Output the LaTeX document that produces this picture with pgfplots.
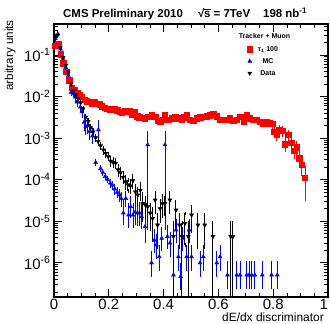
\documentclass[border=0pt]{standalone}
\usepackage{fontspec}
\setmainfont{Liberation Sans}
\usepackage{pgfplots}
\usepackage{pgfplotstable}
\pgfplotsset{compat=1.18}

\pgfplotstableread{
x y r
0.005 0.166 0.03
0.015 0.186 0.03
0.025 0.105 0.03
0.033 0.063 0.03
0.044 0.040 0.03
0.055 0.025 0.03
0.065 0.0166 0.03
0.075 0.0145 0.03
0.085 0.0120 0.03
0.093 0.0107 0.03
0.102 0.0098 0.03
0.111 0.0085 0.04
0.120 0.0078 0.04
0.130 0.0074 0.04
0.139 0.0068 0.04
0.148 0.0074 0.04
0.157 0.0068 0.04
0.167 0.0065 0.04
0.175 0.0059 0.04
0.185 0.0054 0.04
0.193 0.0051 0.04
0.203 0.0050 0.05
0.212 0.0050 0.05
0.221 0.0050 0.05
0.230 0.0047 0.05
0.240 0.0043 0.05
0.248 0.0041 0.05
0.258 0.0045 0.05
0.267 0.0043 0.05
0.276 0.0044 0.05
0.285 0.0037 0.05
0.294 0.0042 0.05
0.303 0.0034 0.05
0.311 0.0032 0.05
0.321 0.0031 0.05
0.331 0.0030 0.05
0.344 0.0033 0.05
0.357 0.0036 0.05
0.369 0.0033 0.05
0.378 0.0026 0.05
0.387 0.0025 0.05
0.396 0.0028 0.05
0.405 0.0036 0.05
0.417 0.0028 0.05
0.430 0.0030 0.05
0.442 0.0032 0.05
0.454 0.0030 0.05
0.466 0.0028 0.05
0.475 0.0032 0.05
0.484 0.0036 0.05
0.496 0.0028 0.05
0.508 0.0026 0.05
0.520 0.0030 0.05
0.533 0.0032 0.05
0.545 0.0033 0.05
0.557 0.0034 0.05
0.569 0.0036 0.05
0.581 0.0038 0.05
0.594 0.0034 0.05
0.606 0.0028 0.05
0.618 0.0028 0.05
0.630 0.0028 0.05
0.642 0.0030 0.05
0.654 0.0026 0.05
0.667 0.0028 0.05
0.679 0.0033 0.05
0.693 0.0025 0.06
0.703 0.0036 0.06
0.715 0.0030 0.06
0.727 0.0028 0.06
0.740 0.0028 0.06
0.752 0.0025 0.07
0.764 0.0023 0.07
0.776 0.0025 0.07
0.788 0.0023 0.08
0.796 0.0022 0.15
0.803 0.00145 0.2
0.813 0.0012 0.2
0.822 0.0016 0.2
0.834 0.0015 0.2
0.843 0.00072 0.3
0.855 0.0012 0.2
0.865 0.00078 0.3
0.876 0.0005 0.3
0.886 0.0006 0.3
0.895 0.00033 0.35
0.904 0.00023 0.4
0.916 0.000112 0.7
}\redtab

\pgfplotstableread{
x y ep em
0.005 0.25 0.05 0.05
0.014 0.32 0.05 0.05
0.024 0.14 0.05 0.05
0.033 0.083 0.05 0.05
0.043 0.050 0.05 0.05
0.052 0.032 0.05 0.05
0.062 0.0126 0.1 0.1
0.072 0.0117 0.1 0.1
0.078 0.0098 0.15 0.15
0.084 0.0074 0.15 0.15
0.096 0.0056 0.2 0.2
0.102 0.0043 0.2 0.2
0.110 0.0024 0.4 0.3
0.116 0.0019 0.4 0.3
0.123 0.0020 0.4 0.3
0.130 0.00145 0.4 0.3
0.140 0.00112 0.4 0.3
0.162 0.00158 0.6 0.5
0.152 0.00026 0.1 0.1
0.170 0.000186 0.1 0.1
0.178 0.000151 0.1 0.1
0.187 0.00012 0.1 0.1
0.196 0.000102 0.12 0.12
0.205 0.000083 0.15 0.15
0.213 0.000074 0.15 0.15
0.222 0.00006 0.2 0.2
0.231 0.00005 0.2 0.2
0.240 0.0000427 0.25 0.25
0.245 0.0000355 0.3 0.3
0.253 0.0000158 1.0 0.43
0.262 0.0000355 0.4 0.3
0.272 0.0000141 0.8 0.45
0.280 0.0000224 0.6 0.4
0.288 0.0000141 0.8 0.45
0.296 0.0000162 0.7 0.45
0.304 0.0000158 0.7 0.45
0.312 0.0000158 0.7 0.45
0.320 0.0000129 0.8 0.45
0.332 0.0000074 0.9 0.55
0.342 0.00069 0.95 0.99
0.356 0.0000010 0.75 0.5
0.366 0.0000035 0.7 0.45
0.374 0.0000027 0.7 0.5
0.384 0.0000014 0.75 0.5
0.393 0.0000039 0.7 0.45
0.405 0.00069 0.95 0.99
0.414 0.0000043 0.7 0.45
0.423 0.0000030 0.7 0.5
0.436 0.00000051 0.95 0.48
0.445 0.0000062 0.7 0.45
0.454 0.0000014 0.75 0.5
0.462 0.00000047 0.95 0.48
0.470 0.0000039 0.7 0.45
0.484 0.0000014 0.75 0.5
0.493 0.0000062 0.7 0.45
0.502 0.0000014 0.75 0.5
0.533 0.0000010 0.75 0.5
0.545 0.0000014 0.75 0.5
0.594 0.0000010 0.75 0.5
0.606 0.0000014 0.75 0.5
0.633 0.00000051 0.95 0.48
0.667 0.00000051 0.95 0.48
0.679 0.00000051 0.95 0.48
0.703 0.00000051 0.95 0.48
0.712 0.00000051 0.95 0.48
0.721 0.00000051 0.95 0.48
0.733 0.00000051 0.95 0.48
0.760 0.00000051 0.95 0.48
0.794 0.00000051 0.95 0.48
0.815 0.00000051 0.95 0.48
}\bluetab

\pgfplotstableread{
x y ep em
0.005 0.27 0.05 0.05
0.013 0.30 0.05 0.05
0.023 0.15 0.05 0.05
0.033 0.087 0.05 0.05
0.043 0.056 0.05 0.05
0.052 0.039 0.05 0.05
0.062 0.020 0.05 0.05
0.072 0.0141 0.05 0.05
0.080 0.0112 0.05 0.05
0.088 0.0089 0.05 0.05
0.097 0.0071 0.05 0.05
0.106 0.0050 0.08 0.08
0.116 0.0032 0.1 0.1
0.125 0.0025 0.1 0.1
0.134 0.00178 0.1 0.1
0.143 0.00141 0.1 0.1
0.152 0.00102 0.12 0.12
0.161 0.00083 0.12 0.12
0.170 0.00066 0.12 0.12
0.180 0.00052 0.15 0.15
0.189 0.00043 0.15 0.15
0.198 0.00036 0.15 0.15
0.207 0.00028 0.2 0.2
0.216 0.00026 0.2 0.2
0.225 0.00025 0.2 0.2
0.234 0.000174 0.25 0.25
0.243 0.000148 0.25 0.25
0.252 0.000115 0.25 0.25
0.261 0.000089 0.3 0.3
0.270 0.000076 0.3 0.3
0.279 0.000071 0.3 0.3
0.288 0.000095 0.3 0.3
0.297 0.000051 0.4 0.4
0.306 0.000043 0.4 0.4
0.315 0.000056 0.4 0.4
0.324 0.000027 0.7 0.6
0.333 0.000025 0.5 0.5
0.342 0.0000224 0.5 0.5
0.351 0.0000158 0.6 0.6
0.360 0.0000117 0.7 0.7
0.369 0.0000324 0.5 0.5
0.378 0.0000081 0.74 0.7
0.387 0.0000204 0.5 0.5
0.396 0.0000269 0.5 0.5
0.405 0.0000269 0.5 0.5
0.423 0.0000324 0.5 0.5
0.436 0.0000043 1.1 0.98
0.445 0.0000186 0.6 0.6
0.458 0.0000081 0.74 0.7
0.467 0.0000043 1.1 0.98
0.478 0.0000089 0.74 0.7
0.490 0.0000043 1.1 0.98
0.502 0.0000141 0.6 0.6
0.525 0.0000081 0.74 0.7
0.550 0.0000081 0.74 0.7
0.580 0.0000043 1.1 0.98
0.645 0.0000043 1.1 0.98
0.653 0.0000043 1.1 0.98
}\blacktab

\begin{document}
\begin{tikzpicture}
\begin{axis}[
  at={(54bp,27bp)}, anchor=south west,
  scale only axis, width=274bp, height=273bp,
  xmin=0, xmax=1, ymode=log, ymin=1.51e-7, ymax=0.556,
  xtick={0,0.2,0.4,0.6,0.8,1}, xticklabels={0,0.2,0.4,0.6,0.8,\makebox[0pt][r]{1}},
  minor x tick num=3,
  ytick={1e-6,1e-5,1e-4,1e-3,1e-2,1e-1},
  yticklabels={10\textsuperscript{-6},10\textsuperscript{-5},10\textsuperscript{-4},10\textsuperscript{-3},10\textsuperscript{-2},10\textsuperscript{-1}},
  minor ytick={2e-7,3e-7,4e-7,5e-7,6e-7,7e-7,8e-7,9e-7,
    2e-6,3e-6,4e-6,5e-6,6e-6,7e-6,8e-6,9e-6,
    2e-5,3e-5,4e-5,5e-5,6e-5,7e-5,8e-5,9e-5,
    2e-4,3e-4,4e-4,5e-4,6e-4,7e-4,8e-4,9e-4,
    2e-3,3e-3,4e-3,5e-3,6e-3,7e-3,8e-3,9e-3,
    2e-2,3e-2,4e-2,5e-2,6e-2,7e-2,8e-2,9e-2,
    2e-1,3e-1,4e-1,5e-1},
  major tick length=8bp, minor tick length=4bp,
  every tick/.style={line width=0.8bp, black},
  axis line style={line width=1.2bp},
  ticklabel style={font=\fontsize{15}{15}\selectfont},
  xticklabel style={yshift=1bp},
  legend style={draw=none, fill=none, at={(0.704,0.921)}, anchor=north west,
    font=\bfseries\fontsize{7}{8}\selectfont, row sep=5bp, inner sep=0pt,
    nodes={inner sep=0.5bp, text height=5bp, text depth=1bp},
    /tikz/every odd column/.append style={column sep=5bp}},
  legend image code/.code={\draw[#1] plot coordinates {(3bp,0bp)};},
]
\addplot[only marks, mark=square*, mark size=2.7bp, color=red,
  error bars/.cd, y dir=both, y explicit relative,
  error bar style={line width=0.8bp, red}, error mark options={mark size=1.8bp, line width=0.8bp, red}]
  table[x=x, y=y, y error=r] {\redtab};
\addlegendentry{τ\textsubscript{1} 100}
\addplot[only marks, mark=triangle*, mark size=2.3bp, color=blue,
  error bars/.cd, y dir=both, y explicit relative,
  error bar style={line width=0.8bp, blue}, error mark options={mark size=1.8bp, line width=0.8bp, blue}]
  table[x=x, y=y, y error plus=ep, y error minus=em] {\bluetab};
\addlegendentry{MC}
\addplot[only marks, mark=triangle*, mark size=2.3bp, color=black, mark options={rotate=180},
  error bars/.cd, y dir=both, y explicit relative,
  error bar style={line width=1bp, black}, error mark options={mark size=1.8bp, line width=0.9bp, black}]
  table[x=x, y=y, y error plus=ep, y error minus=em] {\blacktab};
\addlegendentry{Data}
\node[font=\bfseries\fontsize{7}{8}\selectfont] at (rel axis cs:0.768,0.956) {Tracker + Muon};
\end{axis}
\node[anchor=base west, inner sep=0pt, font=\bfseries\fontsize{11.5}{12}\selectfont] at (63bp,306.5bp) {CMS Preliminary 2010};
\node[anchor=base west, inner sep=0pt, font=\bfseries\fontsize{11.5}{12}\selectfont] at (198bp,306.5bp) {√\kern-0.3pt\rlap{\rule[7.4pt]{0.58em}{0.7pt}}s = 7TeV};
\node[anchor=base west, inner sep=0pt, font=\bfseries\fontsize{11.5}{12}\selectfont] at (263bp,306.5bp) {198 nb\textsuperscript{-1}};
\node[rotate=90, anchor=east, inner sep=0pt, font=\fontsize{11.7}{12}\selectfont] at (10bp,304bp) {arbitrary units};
\node[anchor=base east, inner sep=0pt, font=\fontsize{12}{12}\selectfont] at (324bp,2.6bp) {dE/dx discriminator};
\pgfresetboundingbox
\path[use as bounding box] (0,0) rectangle (330bp,324bp);
\end{tikzpicture}
\end{document}
